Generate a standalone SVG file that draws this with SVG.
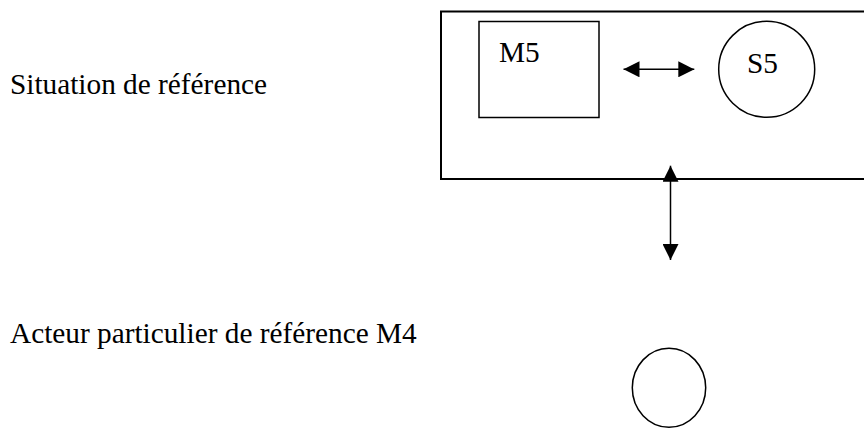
<svg xmlns="http://www.w3.org/2000/svg" width="864" height="430" viewBox="0 0 864 430">
<style>
text{font-family:"Liberation Serif","Times New Roman",serif;font-size:29.3px;fill:#000}
.s{fill:none;stroke:#000;stroke-width:1.5}
.o{fill:none;stroke:#000;stroke-width:2}
.c{stroke:#000;stroke-width:1.5;fill:none}
</style>
<defs>
<marker id="ah" markerUnits="userSpaceOnUse" markerWidth="16" markerHeight="16" refX="16" refY="8" orient="auto-start-reverse" viewBox="0 0 16 16">
<path d="M0,0 L16,8 L0,16 Z" fill="#000"/>
</marker>
</defs>
<rect width="864" height="430" fill="#fff"/>
<text x="10" y="94">Situation de référence</text>
<text x="10" y="343">Acteur particulier de référence M4</text>
<g id="situation">
<rect class="o" x="441" y="11.5" width="440" height="167.5"/>
</g>
<g id="M5">
<rect class="s" x="479" y="21.5" width="120" height="96"/>
<text x="499" y="62">M5</text>
</g>
<g id="S5">
<circle class="s" cx="766.7" cy="69.3" r="48"/>
<text x="747" y="73">S5</text>
</g>
<g id="M4">
<ellipse class="s" cx="669" cy="387.8" rx="36.7" ry="39.5"/>
</g>
<g id="connectors">
<line class="c" x1="623.5" y1="69.3" x2="694.3" y2="69.3" marker-start="url(#ah)" marker-end="url(#ah)"/>
<line class="c" x1="670.5" y1="165.7" x2="670.5" y2="260" marker-start="url(#ah)" marker-end="url(#ah)"/>
</g>
</svg>
